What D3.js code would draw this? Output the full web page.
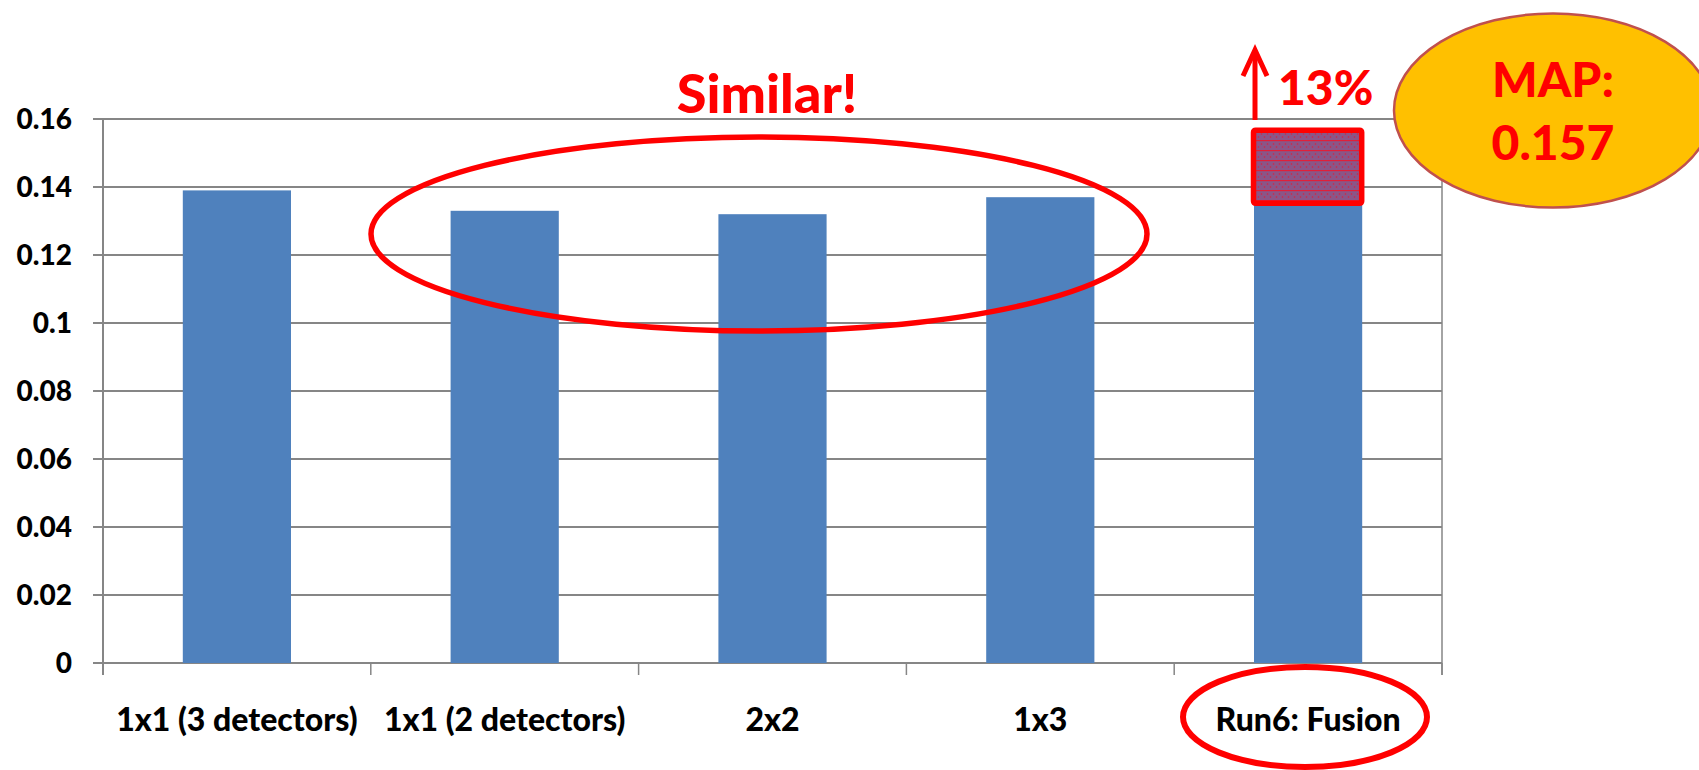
<!DOCTYPE html>
<html>
<head>
<meta charset="utf-8">
<script src="https://cdn.jsdelivr.net/npm/d3@7"></script>
<style>
  html, body { margin: 0; padding: 0; background: #fff; }
  svg { display: block; }
  text { font-family: Lato, "Open Sans", sans-serif; font-weight: 900; }
</style>
</head>
<body>
<svg id="chart" width="1699" height="770"></svg>
<script>
// ---- data ----
const categories = ["1x1 (3 detectors)", "1x1 (2 detectors)", "2x2", "1x3", "Run6: Fusion"];
const values = [0.139, 0.133, 0.132, 0.137, 0.157];
const yTicks = [0, 0.02, 0.04, 0.06, 0.08, 0.1, 0.12, 0.14, 0.16];
const yTickLabels = ["0", "0.02", "0.04", "0.06", "0.08", "0.1", "0.12", "0.14", "0.16"];
const highlightRange = [0.1355, 0.157];   // hatched box on the fusion bar
const annotations = { similar: "Similar!", gain: "13%", mapLine1: "MAP:", mapLine2: "0.157" };

(function () {
// ---- layout ----
const svg = d3.select("#chart");
const pLeft = 103, pRight = 1442, pTop = 119, pBottom = 663;
const gridColor = "#868686";
const red = "#ff0000";

const x = d3.scaleBand().domain(categories).range([pLeft, pRight])
  .paddingInner(0.596).paddingOuter(0.298);
const y = d3.scaleLinear().domain([0, 0.16]).range([pBottom, pTop]);
const step = x.step();

// pattern for the highlight box
const defs = svg.append("defs");
const pat = defs.append("pattern").attr("id", "hatch").attr("patternUnits", "userSpaceOnUse")
  .attr("width", 6).attr("height", 10);
pat.append("rect").attr("width", 6).attr("height", 10).attr("fill", "#8a5688");
pat.append("rect").attr("x", 0).attr("y", 0).attr("width", 6).attr("height", 1.2).attr("fill", "#e0203a");
pat.append("circle").attr("cx", 1.5).attr("cy", 4).attr("r", 0.8).attr("fill", "#d82040");
pat.append("circle").attr("cx", 4.5).attr("cy", 7).attr("r", 0.8).attr("fill", "#d82040");

// gridlines
svg.append("g").selectAll("line").data(yTicks).join("line")
  .attr("x1", pLeft - 10).attr("x2", pRight)
  .attr("y1", d => y(d)).attr("y2", d => y(d))
  .attr("stroke", gridColor).attr("stroke-width", 2);

// left axis and right border
svg.append("line").attr("x1", pLeft).attr("x2", pLeft).attr("y1", pTop).attr("y2", pBottom + 12)
  .attr("stroke", gridColor).attr("stroke-width", 2);
svg.append("line").attr("x1", pRight).attr("x2", pRight).attr("y1", pTop).attr("y2", pBottom + 12)
  .attr("stroke", gridColor).attr("stroke-width", 1.5);

// category tick marks
svg.append("g").selectAll("line").data(d3.range(categories.length + 1)).join("line")
  .attr("x1", i => pLeft + i * step).attr("x2", i => pLeft + i * step)
  .attr("y1", pBottom).attr("y2", pBottom + 12)
  .attr("stroke", gridColor).attr("stroke-width", 1.5);

// y labels
svg.append("g").selectAll("text").data(yTicks).join("text")
  .attr("x", 72).attr("y", d => y(d)).attr("dy", "0.36em")
  .attr("text-anchor", "end").attr("font-size", 28).attr("fill", "#000")
  .text((d, i) => yTickLabels[i]);

// bars
svg.append("g").selectAll("rect").data(values).join("rect")
  .attr("x", (d, i) => x(categories[i])).attr("width", x.bandwidth())
  .attr("y", d => y(d)).attr("height", d => y(0) - y(d))
  .attr("fill", "#4f81bd");

// x labels
svg.append("g").selectAll("text").data(categories).join("text")
  .attr("x", d => x(d) + x.bandwidth() / 2).attr("y", 731)
  .attr("text-anchor", "middle").attr("font-size", 32).attr("fill", "#000")
  .text(d => d);

// highlight box on fusion bar
const fx = x(categories[4]);
svg.append("rect")
  .attr("x", fx - 0.5).attr("width", x.bandwidth())
  .attr("y", y(highlightRange[1]) + 1).attr("height", y(highlightRange[0]) - y(highlightRange[1]))
  .attr("rx", 2).attr("fill", "url(#hatch)").attr("stroke", red).attr("stroke-width", 5.5);

// arrow
const ax = fx + 1;
svg.append("line").attr("x1", ax).attr("x2", ax).attr("y1", 120).attr("y2", 52)
  .attr("stroke", red).attr("stroke-width", 5);
svg.append("path").attr("d", `M${ax - 12},76 L${ax},50 L${ax + 12},76`)
  .attr("fill", "none").attr("stroke", red).attr("stroke-width", 5).attr("stroke-linejoin", "miter");
svg.append("text").attr("x", 1278).attr("y", 105).attr("font-size", 48).attr("fill", red)
  .text(annotations.gain);

// Similar ellipse + text
svg.append("ellipse").attr("cx", 759).attr("cy", 234).attr("rx", 388).attr("ry", 97)
  .attr("fill", "none").attr("stroke", red).attr("stroke-width", 5.5);
svg.append("text").attr("x", 767).attr("y", 113).attr("text-anchor", "middle")
  .attr("font-size", 54).attr("fill", red).text(annotations.similar);

// Run6 ellipse
svg.append("ellipse").attr("cx", 1305).attr("cy", 717).attr("rx", 122).attr("ry", 50)
  .attr("fill", "none").attr("stroke", red).attr("stroke-width", 6);

// MAP ellipse
svg.append("ellipse").attr("cx", 1553).attr("cy", 110.5).attr("rx", 159).attr("ry", 97)
  .attr("fill", "#ffc000").attr("stroke", "#c0504d").attr("stroke-width", 2.5);
svg.append("text").attr("x", 1553).attr("y", 97).attr("text-anchor", "middle")
  .attr("font-size", 48).attr("fill", red).text(annotations.mapLine1);
svg.append("text").attr("x", 1553).attr("y", 160).attr("text-anchor", "middle")
  .attr("font-size", 48).attr("fill", red).text(annotations.mapLine2);
})();
</script>
</body>
</html>
